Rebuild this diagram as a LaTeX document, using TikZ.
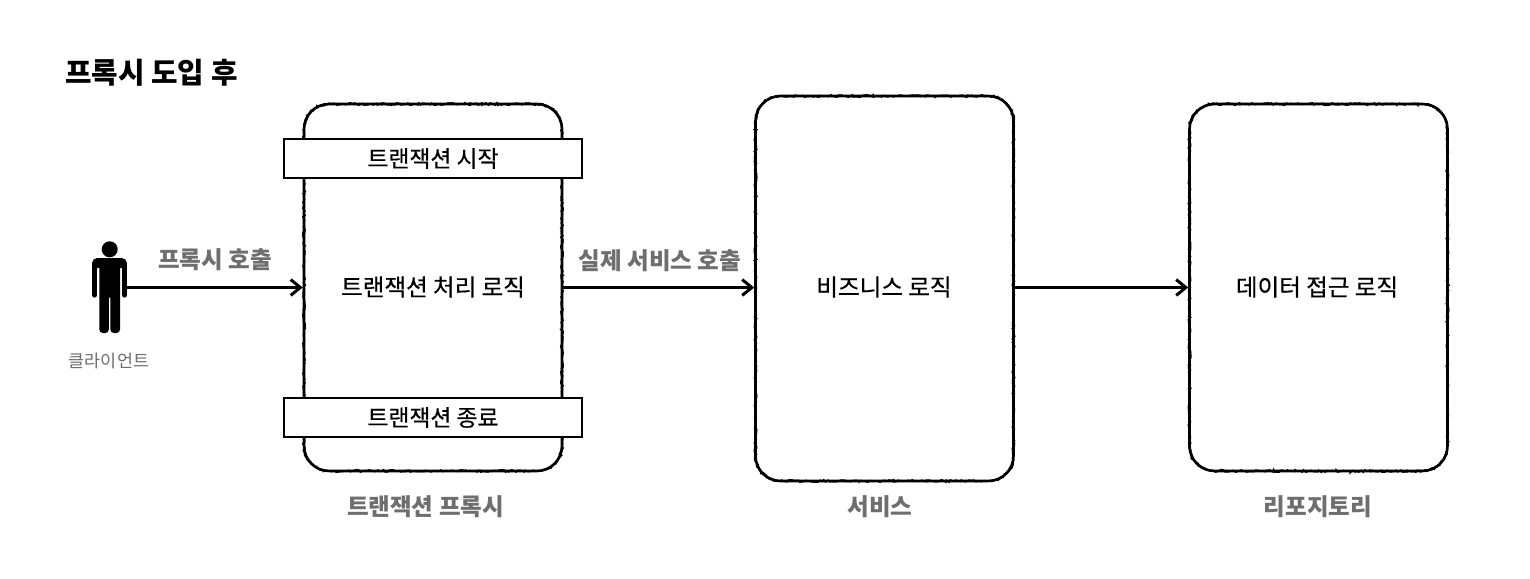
\documentclass[tikz,border=0pt]{standalone}
\usepackage{fontspec}
\setmainfont{Noto Sans CJK KR}
\newfontfamily\medfont[FakeBold=0.5]{Noto Sans CJK KR}
\usetikzlibrary{arrows.meta, decorations.pathmorphing}
\definecolor{labelgray}{HTML}{6E6E6E}
\begin{document}
\begin{tikzpicture}[
    x=0.02cm, y=-0.02cm,
    rough/.style={draw, line width=1.5pt, rounded corners=0.5cm, minimum width=5.16cm, inner sep=0pt,
      postaction={draw, sharp corners, line width=0.9pt, decorate, decoration={random steps, segment length=1.1pt, amplitude=0.7pt}}},
    band/.style={draw, fill=white, line width=0.8pt, minimum width=5.96cm, minimum height=0.78cm, inner sep=0pt, font=\fontsize{13}{14}\medfont},
    logic/.style={font=\fontsize{13.4}{16}\medfont},
    caption/.style={font=\fontsize{13.4}{16}\selectfont\bfseries, text=labelgray},
    call/.style={draw, line width=1.7pt, -{Straight Barb[length=5.5pt, width=9pt, line width=1.7pt]}},
    limb/.style={draw, line cap=round, line join=round, line width=3pt}
]
  \useasboundingbox (0,0) rectangle (1530,578);
  \node[font=\fontsize{16.4}{20}\selectfont\bfseries, anchor=west, inner sep=0pt] (title) at (65,73) {프록시 도입 후};
  % --- client figure -------------------------------------------------------
  \fill (109.7,249.3) circle (8);
  \fill[rounded corners=3pt] (92,268) -- (92,258) -- (127,258) -- (127,268) -- cycle;
  \fill[rounded corners=2pt] (99.3,262) -- (120,262) -- (120,333) -- (110.4,333) -- (110.4,295)
    -- (108.9,295) -- (108.9,333) -- (99.3,333) -- cycle;
  \draw[limb] (94.7,264) -- (94.7,295);
  \draw[limb] (124.6,264) -- (124.6,295);
  \coordinate (client) at (122,287.5);
  \node[font=\fontsize{9.9}{12}\selectfont, text=labelgray] (clientlabel) at (109,361) {클라이언트};
  % --- proxy, service, repository ------------------------------------------
  \node[rough, minimum height=7.34cm] (proxy) at (433,287.5) {};
  \node[rough, minimum height=7.70cm] (service) at (884.5,288.5) {};
  \node[rough, minimum height=7.34cm] (repository) at (1318.5,287.5) {};
  \node[band] (txstart) at (433,158.5) {트랜잭션 시작};
  \node[band] (txend) at (433,417.5) {트랜잭션 종료};
  \node[logic] (txlogic) at (433,287) {트랜잭션 처리 로직};
  \node[logic] (bizlogic) at (884,287) {비즈니스 로직};
  \node[logic] (datalogic) at (1317,287) {데이터 접근 로직};
  \node[caption] (proxylabel) at (425.5,507) {트랜잭션 프록시};
  \node[caption] (servicelabel) at (880,507) {서비스};
  \node[caption] (repositorylabel) at (1318,507) {리포지토리};
  % --- calls -----------------------------------------------------------------
  \draw[call] (client) -- (proxy.west);
  \draw[call] (proxy.east) -- (proxy.east -| service.west);
  \draw[call] (service.east |- repository.west) -- (repository.west);
  \node[caption] (proxycall) at (215,260) {프록시 호출};
  \node[caption] (servicecall) at (660,261) {실제 서비스 호출};
\end{tikzpicture}
\end{document}
